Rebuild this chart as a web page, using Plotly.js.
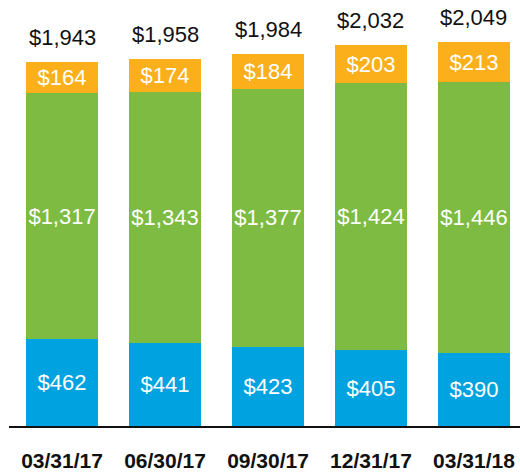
<!DOCTYPE html>
<html><head><meta charset="utf-8">
<script src="https://cdn.plot.ly/plotly-3.0.1.min.js"></script>
<style>html,body{margin:0;padding:0;background:#fff}#chart{width:520px;height:473px}</style>
</head><body><div id="chart"></div>
<script>
const categories = ["03/31/17", "06/30/17", "09/30/17", "12/31/17", "03/31/18"];
const bottomSeries = [462, 441, 423, 405, 390];
const middleSeries = [1317, 1343, 1377, 1424, 1446];
const topSeries = [164, 174, 184, 203, 213];
const totals = [1943, 1958, 1984, 2032, 2049];

const FONT = '"Liberation Sans", Arial, sans-serif';
const fmt = v => '$' + v.toLocaleString('en-US');

function seg(vals, color) {
  return {
    type: 'bar', x: categories, y: vals,
    marker: {color: color, line: {width: 0}},
    text: vals.map(fmt), textposition: 'inside', insidetextanchor: 'middle',
    textangle: 0, constraintext: 'none',
    insidetextfont: {family: FONT, size: 22, color: '#ffffff'},
    hoverinfo: 'skip'
  };
}
const data = [
  seg(bottomSeries, '#00A3E0'),
  seg(middleSeries, '#7DBB42'),
  seg(topSeries, '#FBAF1A')
];
const annotations = categories.map((c, i) => ({
  x: c, y: totals[i], xref: 'x', yref: 'y', text: fmt(totals[i]),
  showarrow: false, yanchor: 'bottom', yshift: 10,
  font: {family: FONT, size: 22, color: '#111111'}
}));
const layout = {
  width: 520, height: 473,
  margin: {l: 9, r: 0, t: 0, b: 47},
  barmode: 'stack', bargap: 0.3,
  showlegend: false,
  paper_bgcolor: '#ffffff', plot_bgcolor: '#ffffff',
  xaxis: {
    type: 'category', range: [-0.515, 4.447],
    showline: true, linecolor: '#111111', linewidth: 2,
    ticks: '', showgrid: false, zeroline: false,
    tickfont: {family: FONT, size: 21, color: '#111111', weight: 'bold'},
    ticklabelstandoff: 15
  },
  yaxis: {range: [0, 2274], visible: false, showgrid: false, zeroline: false},
  annotations: annotations
};
Plotly.newPlot('chart', data, layout, {displayModeBar: false, staticPlot: true});
</script></body></html>
